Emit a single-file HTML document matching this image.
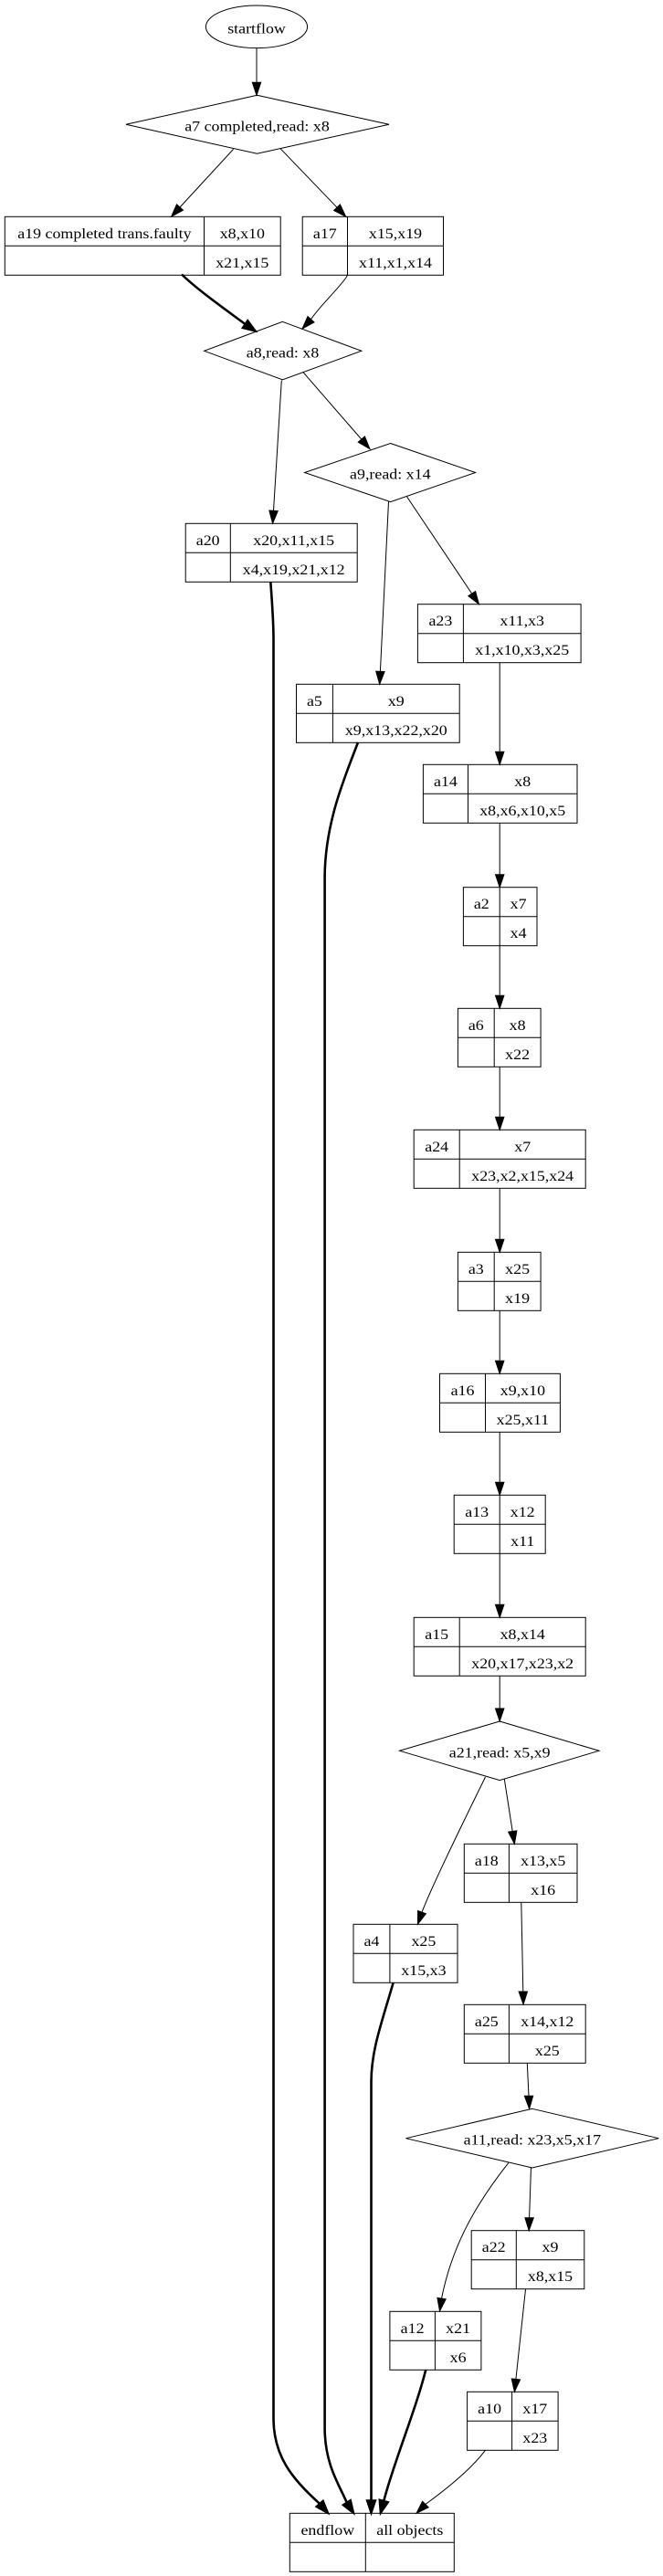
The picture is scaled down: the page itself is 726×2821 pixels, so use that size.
<!DOCTYPE html>
<html>
<head>
<meta charset="utf-8">
<style>
html,body{margin:0;padding:0;background:#fff;}
svg{display:block;}
text{font-family:"Liberation Serif","Times New Roman",serif;font-size:16px;text-anchor:middle;fill:#000;}
.n{fill:none;stroke:#000;stroke-width:1;}
.e{fill:none;stroke:#000;stroke-width:1;}
.t{fill:none;stroke:#000;stroke-width:2.6;}
.a{fill:#000;stroke:#000;stroke-width:1;}
.at{fill:#000;stroke:#000;stroke-width:2;}
</style>
</head>
<body>
<svg width="726" height="2821" viewBox="0 0 726 2821" xmlns="http://www.w3.org/2000/svg">
<rect x="0" y="0" width="726" height="2821" fill="#fff"/>

<!-- ===== Nodes ===== -->
<ellipse class="n" cx="281" cy="29.3" rx="55.6" ry="23.3"/>
<text transform="translate(281 36.3) scale(1.12 1)">startflow</text>

<polygon class="n" points="281.5,104.3 426,136.3 281.5,168.3 138,136.3"/>
<text transform="translate(281.5 143.3) scale(1.12 1)">a7 completed,read: x8</text>

<rect class="n" x="5.3" y="237.3" width="301.9" height="64"/>
<line class="n" x1="5.3" y1="269.3" x2="307.2" y2="269.3"/>
<line class="n" x1="223.5" y1="237.3" x2="223.5" y2="301.3"/>
<text transform="translate(114.4 260.8) scale(1.12 1)">a19 completed trans.faulty</text>
<text transform="translate(265.3 260.8) scale(1.12 1)">x8,x10</text>
<text transform="translate(265.3 292.8) scale(1.12 1)">x21,x15</text>

<rect class="n" x="331.2" y="237.3" width="154.3" height="64"/>
<line class="n" x1="331.2" y1="269.3" x2="485.5" y2="269.3"/>
<line class="n" x1="380.5" y1="237.3" x2="380.5" y2="301.3"/>
<text transform="translate(355.8 260.8) scale(1.12 1)">a17</text>
<text transform="translate(433 260.8) scale(1.12 1)">x15,x19</text>
<text transform="translate(433 292.8) scale(1.12 1)">x11,x1,x14</text>

<polygon class="n" points="309.4,352.3 395.8,384.3 309.4,415.9 223.6,384.3"/>
<text transform="translate(309.5 391.3) scale(1.12 1)">a8,read: x8</text>

<polygon class="n" points="427.6,485.5 520.6,517.5 427.6,549.6 333.6,517.5"/>
<text transform="translate(427.3 524.3) scale(1.12 1)">a9,read: x14</text>

<rect class="n" x="203.2" y="573.3" width="188" height="64"/>
<line class="n" x1="203.2" y1="605.3" x2="391.2" y2="605.3"/>
<line class="n" x1="252.3" y1="573.3" x2="252.3" y2="637.3"/>
<text transform="translate(227.7 596.8) scale(1.12 1)">a20</text>
<text transform="translate(321.7 596.8) scale(1.12 1)">x20,x11,x15</text>
<text transform="translate(321.7 628.8) scale(1.12 1)">x4,x19,x21,x12</text>

<rect class="n" x="457.4" y="661.7" width="178.7" height="64"/>
<line class="n" x1="457.4" y1="693.7" x2="636.1" y2="693.7"/>
<line class="n" x1="507.4" y1="661.7" x2="507.4" y2="725.7"/>
<text transform="translate(482.4 685.2) scale(1.12 1)">a23</text>
<text transform="translate(571.7 685.2) scale(1.12 1)">x11,x3</text>
<text transform="translate(571.7 717.2) scale(1.12 1)">x1,x10,x3,x25</text>

<rect class="n" x="324.5" y="749.3" width="178.7" height="64"/>
<line class="n" x1="324.5" y1="781.3" x2="503.2" y2="781.3"/>
<line class="n" x1="364.4" y1="749.3" x2="364.4" y2="813.3"/>
<text transform="translate(344.4 772.8) scale(1.12 1)">a5</text>
<text transform="translate(433.8 772.8) scale(1.12 1)">x9</text>
<text transform="translate(433.8 804.8) scale(1.12 1)">x9,x13,x22,x20</text>

<rect class="n" x="463.4" y="837.3" width="168.6" height="64"/>
<line class="n" x1="463.4" y1="869.3" x2="632" y2="869.3"/>
<line class="n" x1="512.5" y1="837.3" x2="512.5" y2="901.3"/>
<text transform="translate(487.9 860.8) scale(1.12 1)">a14</text>
<text transform="translate(572.2 860.8) scale(1.12 1)">x8</text>
<text transform="translate(572.2 892.8) scale(1.12 1)">x8,x6,x10,x5</text>

<rect class="n" x="507.4" y="971.7" width="80.6" height="64"/>
<line class="n" x1="507.4" y1="1003.7" x2="588" y2="1003.7"/>
<line class="n" x1="547.2" y1="971.7" x2="547.2" y2="1035.7"/>
<text transform="translate(527.3 995.2) scale(1.12 1)">a2</text>
<text transform="translate(567.6 995.2) scale(1.12 1)">x7</text>
<text transform="translate(567.6 1027.2) scale(1.12 1)">x4</text>

<rect class="n" x="501.4" y="1104.3" width="90.7" height="64"/>
<line class="n" x1="501.4" y1="1136.3" x2="592.1" y2="1136.3"/>
<line class="n" x1="541.2" y1="1104.3" x2="541.2" y2="1168.3"/>
<text transform="translate(521.3 1127.8) scale(1.12 1)">a6</text>
<text transform="translate(566.6 1127.8) scale(1.12 1)">x8</text>
<text transform="translate(566.6 1159.8) scale(1.12 1)">x22</text>

<rect class="n" x="453.2" y="1237.3" width="188" height="64"/>
<line class="n" x1="453.2" y1="1269.3" x2="641.2" y2="1269.3"/>
<line class="n" x1="503.2" y1="1237.3" x2="503.2" y2="1301.3"/>
<text transform="translate(478.2 1260.8) scale(1.12 1)">a24</text>
<text transform="translate(572.2 1260.8) scale(1.12 1)">x7</text>
<text transform="translate(572.2 1292.8) scale(1.12 1)">x23,x2,x15,x24</text>

<rect class="n" x="501.4" y="1371.3" width="90.7" height="64"/>
<line class="n" x1="501.4" y1="1403.3" x2="592.1" y2="1403.3"/>
<line class="n" x1="541.2" y1="1371.3" x2="541.2" y2="1435.3"/>
<text transform="translate(521.3 1394.8) scale(1.12 1)">a3</text>
<text transform="translate(566.6 1394.8) scale(1.12 1)">x25</text>
<text transform="translate(566.6 1426.8) scale(1.12 1)">x19</text>

<rect class="n" x="481.5" y="1504.3" width="131.9" height="64"/>
<line class="n" x1="481.5" y1="1536.3" x2="613.4" y2="1536.3"/>
<line class="n" x1="531.5" y1="1504.3" x2="531.5" y2="1568.3"/>
<text transform="translate(506.5 1527.8) scale(1.12 1)">a16</text>
<text transform="translate(572.4 1527.8) scale(1.12 1)">x9,x10</text>
<text transform="translate(572.4 1559.8) scale(1.12 1)">x25,x11</text>

<rect class="n" x="497.2" y="1637.3" width="100" height="64"/>
<line class="n" x1="497.2" y1="1669.3" x2="597.2" y2="1669.3"/>
<line class="n" x1="547.2" y1="1637.3" x2="547.2" y2="1701.3"/>
<text transform="translate(522.2 1660.8) scale(1.12 1)">a13</text>
<text transform="translate(572.2 1660.8) scale(1.12 1)">x12</text>
<text transform="translate(572.2 1692.8) scale(1.12 1)">x11</text>

<rect class="n" x="453.2" y="1771.3" width="188" height="64"/>
<line class="n" x1="453.2" y1="1803.3" x2="641.2" y2="1803.3"/>
<line class="n" x1="503.2" y1="1771.3" x2="503.2" y2="1835.3"/>
<text transform="translate(478.2 1794.8) scale(1.12 1)">a15</text>
<text transform="translate(572.2 1794.8) scale(1.12 1)">x8,x14</text>
<text transform="translate(572.2 1826.8) scale(1.12 1)">x20,x17,x23,x2</text>

<polygon class="n" points="547.2,1885 656,1917.3 547.2,1949.6 437.5,1917.3"/>
<text transform="translate(547.2 1924.3) scale(1.12 1)">a21,read: x5,x9</text>

<rect class="n" x="508.3" y="2019.3" width="123.7" height="64"/>
<line class="n" x1="508.3" y1="2051.3" x2="632" y2="2051.3"/>
<line class="n" x1="557.4" y1="2019.3" x2="557.4" y2="2083.3"/>
<text transform="translate(532.8 2042.8) scale(1.12 1)">a18</text>
<text transform="translate(594.7 2042.8) scale(1.12 1)">x13,x5</text>
<text transform="translate(594.7 2074.8) scale(1.12 1)">x16</text>

<rect class="n" x="387" y="2107.3" width="114" height="64"/>
<line class="n" x1="387" y1="2139.3" x2="501" y2="2139.3"/>
<line class="n" x1="426.9" y1="2107.3" x2="426.9" y2="2171.3"/>
<text transform="translate(406.9 2130.8) scale(1.12 1)">a4</text>
<text transform="translate(463.9 2130.8) scale(1.12 1)">x25</text>
<text transform="translate(463.9 2162.8) scale(1.12 1)">x15,x3</text>

<rect class="n" x="508.3" y="2195.3" width="132.9" height="64"/>
<line class="n" x1="508.3" y1="2227.3" x2="641.2" y2="2227.3"/>
<line class="n" x1="557.4" y1="2195.3" x2="557.4" y2="2259.3"/>
<text transform="translate(532.8 2218.8) scale(1.12 1)">a25</text>
<text transform="translate(599.3 2218.8) scale(1.12 1)">x14,x12</text>
<text transform="translate(599.3 2250.8) scale(1.12 1)">x25</text>

<polygon class="n" points="582.8,2309.3 721.3,2341.7 582.8,2374 444.4,2341.7"/>
<text transform="translate(582.8 2348.7) scale(1.12 1)">a11,read: x23,x5,x17</text>

<rect class="n" x="516.2" y="2442.7" width="123.6" height="64"/>
<line class="n" x1="516.2" y1="2474.7" x2="639.8" y2="2474.7"/>
<line class="n" x1="565.3" y1="2442.7" x2="565.3" y2="2506.7"/>
<text transform="translate(540.7 2466.2) scale(1.12 1)">a22</text>
<text transform="translate(602.5 2466.2) scale(1.12 1)">x9</text>
<text transform="translate(602.5 2498.2) scale(1.12 1)">x8,x15</text>

<rect class="n" x="426.9" y="2531.3" width="100" height="64"/>
<line class="n" x1="426.9" y1="2563.3" x2="526.9" y2="2563.3"/>
<line class="n" x1="476.4" y1="2531.3" x2="476.4" y2="2595.3"/>
<text transform="translate(451.6 2554.8) scale(1.12 1)">a12</text>
<text transform="translate(501.6 2554.8) scale(1.12 1)">x21</text>
<text transform="translate(501.6 2586.8) scale(1.12 1)">x6</text>

<rect class="n" x="511.6" y="2619.3" width="99.5" height="64"/>
<line class="n" x1="511.6" y1="2651.3" x2="611.1" y2="2651.3"/>
<line class="n" x1="560.6" y1="2619.3" x2="560.6" y2="2683.3"/>
<text transform="translate(536.1 2642.8) scale(1.12 1)">a10</text>
<text transform="translate(585.8 2642.8) scale(1.12 1)">x17</text>
<text transform="translate(585.8 2674.8) scale(1.12 1)">x23</text>

<rect class="n" x="317.3" y="2752.3" width="180" height="64"/>
<line class="n" x1="317.3" y1="2784.3" x2="497.3" y2="2784.3"/>
<line class="n" x1="400.3" y1="2752.3" x2="400.3" y2="2816.3"/>
<text transform="translate(358.8 2775.8) scale(1.12 1)">endflow</text>
<text transform="translate(448.8 2775.8) scale(1.12 1)">all objects</text>

<!-- ===== Edges ===== -->
<line class="e" x1="281" y1="52.7" x2="281" y2="90.3"/>
<polygon class="a" points="281,104.3 285.7,90.3 276.3,90.3"/>

<line class="e" x1="255.6" y1="163.3" x2="197" y2="227"/>
<polygon class="a" points="187.5,237.3 200.5,230.2 193.5,223.8"/>

<line class="e" x1="307" y1="162.7" x2="369" y2="227.2"/>
<polygon class="a" points="378.7,237.3 372.4,223.9 365.6,230.5"/>

<path class="t" d="M199,300.5 C215,316 240,334 268.4,354.9"/>
<polygon class="at" points="280,362.7 271.2,350.8 265.6,359.1"/>

<path class="e" d="M380.6,301.3 C375,312 350,335 340.5,349.7"/>
<polygon class="a" points="331,360 344,352.9 337,346.5"/>

<line class="e" x1="308.3" y1="416.5" x2="299.5" y2="559.3"/>
<polygon class="a" points="298.6,573.3 304.2,559.6 294.8,559"/>

<line class="e" x1="331.7" y1="407.3" x2="395.8" y2="481.1"/>
<polygon class="a" points="405,491.7 399.4,478 392.2,484.2"/>

<line class="e" x1="425.5" y1="549.3" x2="416.4" y2="735.3"/>
<polygon class="a" points="415.7,749.3 421.1,735.5 411.7,735.1"/>

<line class="e" x1="445.6" y1="544" x2="516.7" y2="650.1"/>
<polygon class="a" points="524.5,661.7 520.6,647.5 512.8,652.7"/>

<line class="e" x1="547.2" y1="725.7" x2="547.2" y2="823.3"/>
<polygon class="a" points="547.2,837.3 551.9,823.3 542.5,823.3"/>
<line class="e" x1="547.2" y1="901.3" x2="547.2" y2="957.7"/>
<polygon class="a" points="547.2,971.7 551.9,957.7 542.5,957.7"/>
<line class="e" x1="547.2" y1="1035.7" x2="547.2" y2="1090.3"/>
<polygon class="a" points="547.2,1104.3 551.9,1090.3 542.5,1090.3"/>
<line class="e" x1="547.2" y1="1168.3" x2="547.2" y2="1223.3"/>
<polygon class="a" points="547.2,1237.3 551.9,1223.3 542.5,1223.3"/>
<line class="e" x1="547.2" y1="1301.3" x2="547.2" y2="1357.3"/>
<polygon class="a" points="547.2,1371.3 551.9,1357.3 542.5,1357.3"/>
<line class="e" x1="547.2" y1="1435.3" x2="547.2" y2="1490.3"/>
<polygon class="a" points="547.2,1504.3 551.9,1490.3 542.5,1490.3"/>
<line class="e" x1="547.2" y1="1568.3" x2="547.2" y2="1623.3"/>
<polygon class="a" points="547.2,1637.3 551.9,1623.3 542.5,1623.3"/>
<line class="e" x1="547.2" y1="1701.3" x2="547.2" y2="1757.3"/>
<polygon class="a" points="547.2,1771.3 551.9,1757.3 542.5,1757.3"/>
<line class="e" x1="547.2" y1="1835.3" x2="547.2" y2="1871"/>
<polygon class="a" points="547.2,1885 551.9,1871 542.5,1871"/>

<path class="e" d="M531.5,1946 C515,1980 475,2060 462,2094.1"/>
<polygon class="a" points="457.4,2107.3 466.4,2095.7 457.6,2092.5"/>

<line class="e" x1="552.3" y1="1948.3" x2="561.2" y2="2005.5"/>
<polygon class="a" points="563.4,2019.3 565.9,2004.8 556.6,2006.2"/>

<line class="e" x1="570.8" y1="2083.3" x2="572.8" y2="2181"/>
<polygon class="a" points="573.1,2195 577.5,2181 568.1,2181"/>

<line class="e" x1="577.3" y1="2259.3" x2="579" y2="2295.3"/>
<polygon class="a" points="579.6,2309.3 583.7,2295.3 574.3,2295.3"/>

<path class="e" d="M557,2368.3 C520,2415 495,2460 483.5,2517.1"/>
<polygon class="a" points="481.5,2531 488.2,2517.8 478.9,2516.4"/>

<line class="e" x1="581.5" y1="2373.3" x2="579.6" y2="2428.7"/>
<polygon class="a" points="579.2,2442.7 584.3,2428.7 574.9,2428.7"/>

<line class="e" x1="575.5" y1="2507" x2="564.9" y2="2605.4"/>
<polygon class="a" points="563.4,2619.3 569.6,2605.9 560.2,2604.9"/>

<path class="e" d="M531.5,2683.3 C515,2705 490,2725 465.9,2742.5"/>
<polygon class="a" points="456,2752.3 469.2,2745.8 462.6,2739.2"/>

<path class="t" d="M466.2,2595.3 C455,2640 430,2700 420.3,2738.8"/>
<polygon class="at" points="416.7,2752.3 425.1,2740.1 415.5,2737.5"/>

<path class="t" d="M430.6,2171.3 C418,2215 406.5,2245 406.5,2280 L406.5,2738.3"/>
<polygon class="at" points="406.5,2752.3 411.2,2738.3 401.8,2738.3"/>

<path class="t" d="M392,813 C378,850 356,900 355.6,960 L355.6,2660 C356,2700 372,2722 379.7,2740.5"/>
<polygon class="at" points="387.3,2752.3 383.9,2737.8 375.5,2743.2"/>

<path class="t" d="M296.3,637.3 C298,660 299.5,680 299.5,700 L299.5,2650 C300,2690 320,2715 350,2741.8"/>
<polygon class="at" points="359.3,2752.3 353.8,2738.5 346.3,2745.1"/>

</svg>
</body>
</html>
